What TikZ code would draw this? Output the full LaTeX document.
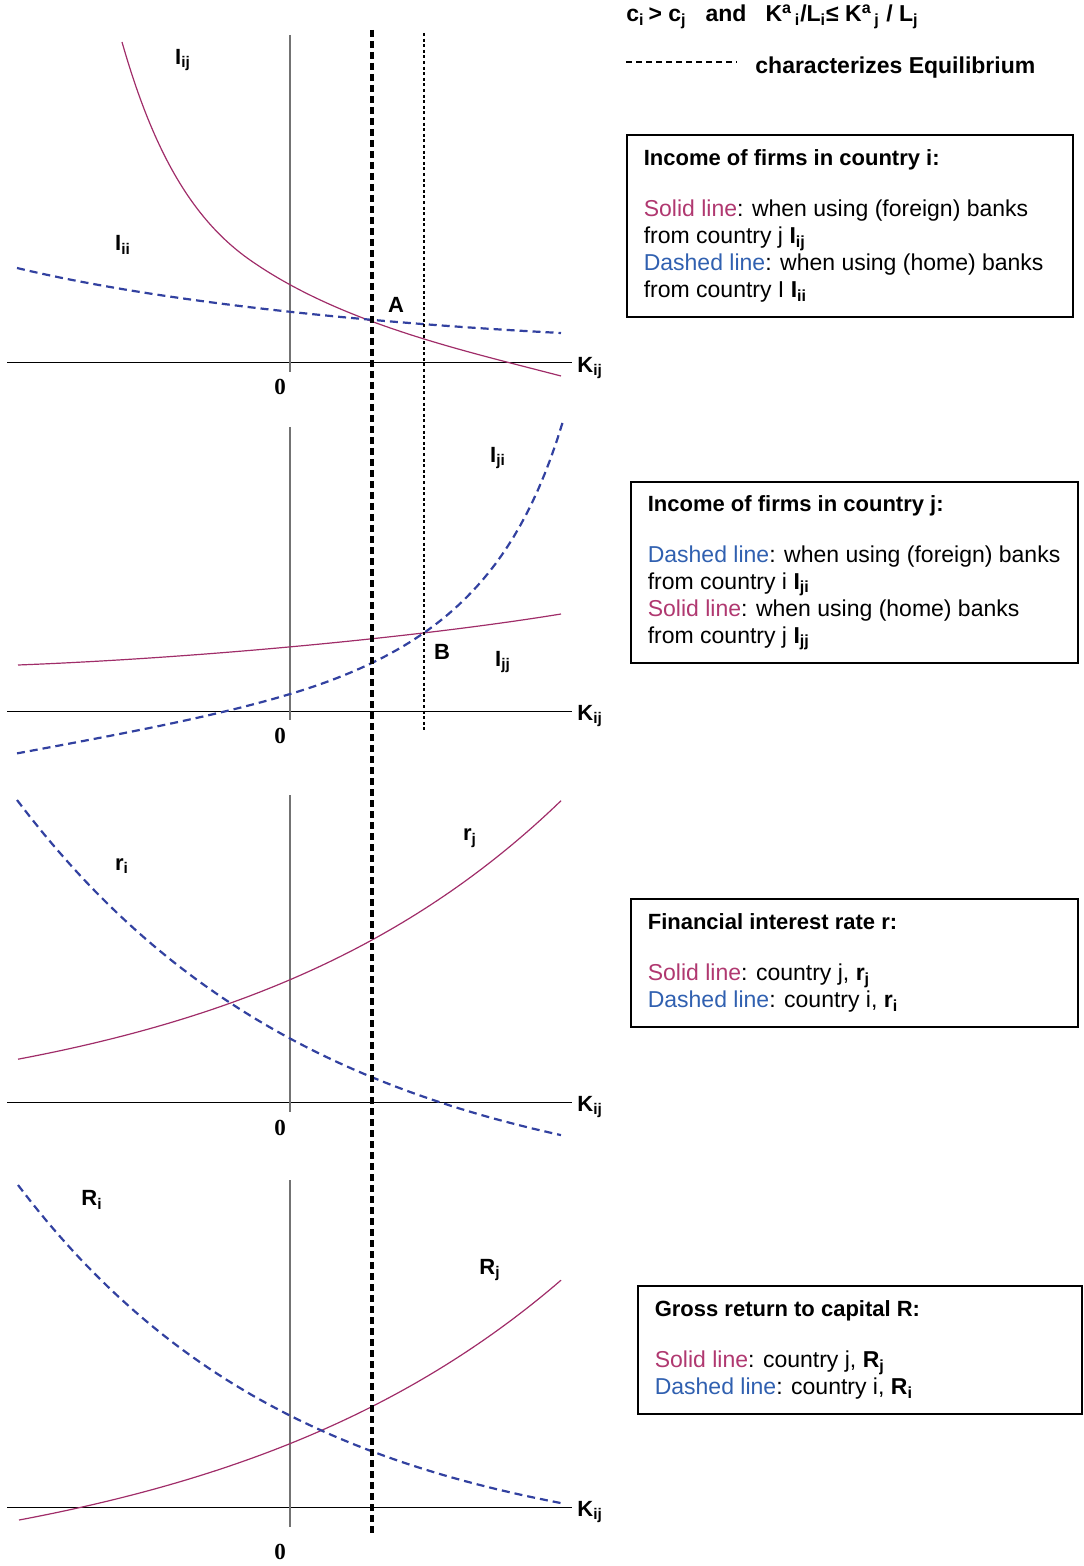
\documentclass[tikz,border=0pt]{standalone}
\usepackage{fontspec}
\setmainfont{Liberation Sans}
\newfontfamily\zerofont{Liberation Serif}
\usepackage{tikz}
\usetikzlibrary{positioning}
\definecolor{curvered}{RGB}{160,45,105}
\definecolor{curveblue}{RGB}{50,65,160}
\definecolor{txtred}{RGB}{176,56,112}
\definecolor{txtblue}{RGB}{48,96,176}
\tikzstyle{solidcurve} = [draw=curvered, line width=0.6pt]
\tikzstyle{dashedcurve} = [draw=curveblue, line width=1.1pt, dash pattern=on 4pt off 2.5pt]
\tikzstyle{haxis} = [draw=black, line width=0.5pt]
\tikzstyle{vaxis} = [draw=black!55, line width=0.7pt]
\tikzstyle{equil} = [draw=black, line width=2.3pt, dash pattern=on 3.5pt off 2pt]
\tikzstyle{guide} = [draw=black, line width=0.6pt, dash pattern=on 1.5pt off 1.3pt]
\tikzstyle{eqdash} = [draw=black, line width=1pt, dash pattern=on 3pt off 2pt]
\tikzstyle{lbl} = [font=\fontsize{11}{13}\selectfont\bfseries, inner sep=0pt]
\tikzstyle{zero} = [font=\fontsize{11.5}{13}\selectfont\zerofont\bfseries, inner sep=0pt]
\tikzstyle{toptext} = [font=\fontsize{11.5}{13.5}\selectfont\bfseries, inner sep=0pt]
\tikzstyle{legendbox} = [rectangle, draw=black, line width=0.6pt]
\tikzstyle{legendtext} = [align=left, inner sep=0pt, font=\fontsize{11.5}{13.5}\selectfont]
\newcommand{\solidtxt}{\textcolor{txtred}{Solid line}}
\newcommand{\dashedtxt}{\textcolor{txtblue}{Dashed line}}
\newcommand{\boxtitle}[1]{{\fontsize{11}{13.5}\selectfont\bfseries #1}}

\begin{document}
\begin{tikzpicture}[x=0.5pt, y=-0.5pt]
			\useasboundingbox (0,0) rectangle (1083,1566);
			% Axes
			\foreach \n/\ya/\yt/\yb/\yz in {1/363/35/372/387, 2/711/427/720/736, 3/1102/795/1112/1128, 4/1507/1180/1527/1552} {
				\draw [haxis] (7,\ya) -- (572,\ya);
				\draw [vaxis] (290,\yt) -- (290,\yb);
				\node [lbl, anchor=west] (k\n) at (577,\ya+5) {K\textsubscript{ij}};
				\node [zero] (zero\n) at (280,\yz) {0};
			}
			% Curves
			\draw [solidcurve] (122,42) .. controls (152,147) and (190,218) .. (250,260) .. controls (340,323) and (461,350) .. (561,376);
			\draw [dashedcurve] (17,268) .. controls (150,300) and (350,322) .. (561,333);
			\draw [solidcurve] (18,665) .. controls (200,658) and (420,637) .. (561,614);
			\draw [dashedcurve] plot [domain=17:563, samples=90] (\x, {711 - (456.12/(680-\x)*100 - 100 - 1.5*(max(0,290-\x)/100)^2)});
			\draw [solidcurve] plot [domain=18:561, samples=80] (\x, {1102 - (59.5*exp(0.003*\x) - 20)});
			\draw [dashedcurve] plot [domain=17:561, samples=80] (\x, {1102 - (402*exp(-0.003294*(\x-17)) - 100)});
			\draw [solidcurve] plot [domain=19:561, samples=80] (\x, {1507 - (63.51*exp(0.002814*\x) - 80)});
			\draw [dashedcurve] plot [domain=18:561, samples=80] (\x, {1507 - (372*exp(-0.003554*(\x-18)) - 50)});
			% Equilibrium lines
			\draw [equil] (372,30) -- (372,1535);
			\draw [guide] (424,33) -- (424,730);
			% Curve labels
			\node [lbl] (Iij) at (183,60) {I\textsubscript{ij}};
			\node [lbl] (Iii) at (123,245) {I\textsubscript{ii}};
			\node [lbl] (A) at (396,305) {A};
			\node [lbl] (Iji) at (498,458) {I\textsubscript{ji}};
			\node [lbl] (B) at (442,652) {B};
			\node [lbl] (Ijj) at (503,662) {I\textsubscript{jj}};
			\node [lbl] (ri) at (122,866) {r\textsubscript{i}};
			\node [lbl] (rj) at (470,838) {r\textsubscript{j}};
			\node [lbl] (Ri) at (92,1200) {R\textsubscript{i}};
			\node [lbl] (Rj) at (490,1270) {R\textsubscript{j}};
			% Top legend
			\node [toptext, anchor=base west] (cond) at (626,22) {c\textsubscript{i}\,> c\textsubscript{j}\hspace{0.55em} and\hspace{0.55em} K\textsuperscript{a}\textsubscript{\,i}/L\textsubscript{i}≤ K\textsuperscript{a}\textsubscript{\,j} / L\textsubscript{j}};
			\coordinate (eqa) at (626,62);
			\coordinate (eqb) at (737,62);
			\draw [eqdash] (eqa) -- (eqb);
			\node [toptext, anchor=base west] (eqtxt) at (755,74) {characterizes Equilibrium};
			% Legend boxes
			\node [legendbox, minimum width=223pt, minimum height=91pt] (boxi) at (850,226) {};
			\node [legendtext, right=8.5pt of boxi.west] (txti) {\boxtitle{Income of firms in country i:}\\[12pt]
				\solidtxt: when using (foreign) banks\\ from country j \textbf{I\textsubscript{ij}}\\
				\dashedtxt: when using (home) banks\\ from country I \textbf{I\textsubscript{ii}}};
			\node [legendbox, minimum width=223.5pt, minimum height=90.5pt] (boxj) at (854.5,572.5) {};
			\node [legendtext, right=8.5pt of boxj.west] (txtj) {\boxtitle{Income of firms in country j:}\\[12pt]
				\dashedtxt: when using (foreign) banks\\ from country i \textbf{I\textsubscript{ji}}\\
				\solidtxt: when using (home) banks\\ from country j \textbf{I\textsubscript{jj}}};
			\node [legendbox, minimum width=223.5pt, minimum height=64pt] (boxr) at (854.5,963) {};
			\node [legendtext, right=8.5pt of boxr.west] (txtr) {\boxtitle{Financial interest rate r:}\\[12pt]
				\solidtxt: country j, \textbf{r\textsubscript{j}}\\
				\dashedtxt: country i, \textbf{r\textsubscript{i}}};
			\node [legendbox, minimum width=222pt, minimum height=64pt] (boxR) at (860,1350) {};
			\node [legendtext, right=8.5pt of boxR.west] (txtR) {\boxtitle{Gross return to capital R:}\\[12pt]
				\solidtxt: country j, \textbf{R\textsubscript{j}}\\
				\dashedtxt: country i, \textbf{R\textsubscript{i}}};
\end{tikzpicture}
\end{document}
